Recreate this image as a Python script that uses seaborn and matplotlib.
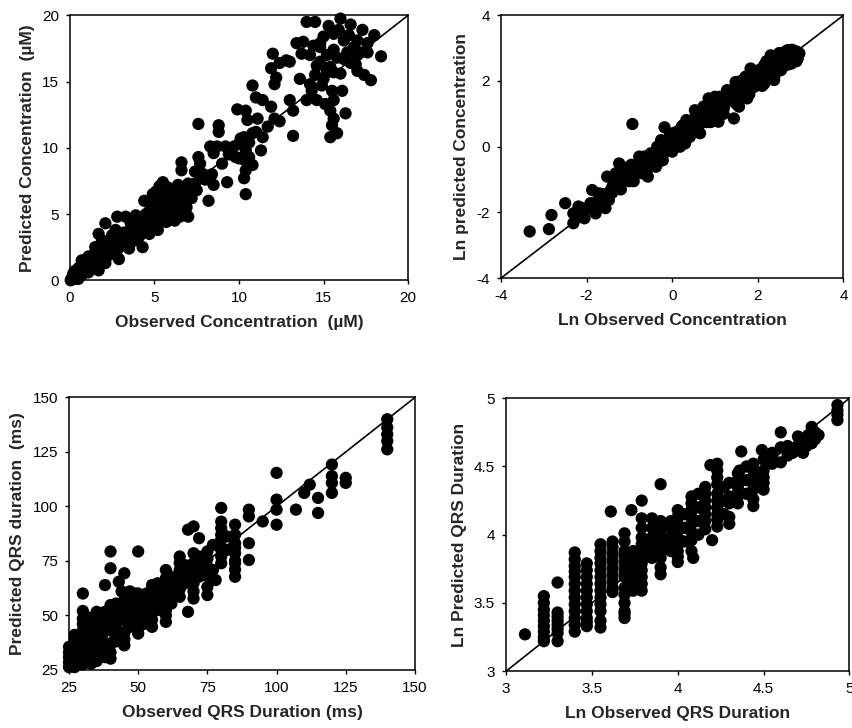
import numpy as np
import pandas as pd
import matplotlib
matplotlib.use("Agg")
import matplotlib.pyplot as plt
import seaborn as sns

# ---- panel A: observed vs predicted concentration (uM) ----
conc_obs = [
    16.0, 14.0, 14.5, 16.6, 17.3, 18.0, 18.4, 17.8, 17.4, 17.0, 16.6, 15.6, 15.0, 14.8, 14.4,
    13.4, 13.8, 13.7, 14.2, 14.8, 15.4, 15.6, 16.2, 16.8, 17.6, 17.0, 16.2, 15.6, 15.2, 13.0,
    12.8, 12.4, 11.9, 12.0, 12.2, 12.1, 14.5, 14.9, 14.3, 14.0, 14.6, 15.1, 15.6, 16.1, 15.5,
    15.4, 15.6, 15.5, 16.3, 15.4, 15.8, 13.2, 13.0, 13.2, 12.1, 11.9, 11.4, 11.0, 10.8, 10.4,
    9.9, 10.5, 11.1, 10.8, 10.3, 9.7, 10.0, 10.4, 11.3, 9.8, 10.3, 10.8, 10.4, 10.3, 10.4,
    9.3, 8.7, 9.2, 8.3, 8.8, 8.8, 7.6, 8.5, 7.6, 7.7, 7.7, 8.5, 8.2, 7.9, 7.4,
    6.6, 6.6, 6.6, 7.1, 6.9, 7.0, 6.5, 6.1, 5.7, 5.3, 5.7, 5.1, 4.8, 4.4, 4.5,
    4.9, 5.2, 4.7, 4.1, 4.0, 4.3, 3.8, 3.3, 2.8, 2.1, 2.7, 3.3, 3.5, 2.9, 2.3,
    1.7, 2.1, 1.6, 1.3, 0.9, 0.5, 0.2, 0.05, 5.5, 5.9, 6.3, 6.1, 5.8, 5.3, 5.7,
    6.2, 4.9, 5.5, 4.5, 0.7, 1.1, 1.5, 1.9, 1.7, 2.5, 1.0, 1.4, 1.7, 0.5, 0.3,
    0.7, 1.1, 2.1, 2.5, 2.9, 3.1, 3.6, 0.1, 0.35, 0.6, 0.8, 1.2,
    0.3, 0.6, 0.9, 1.2, 1.5, 1.8, 2.2, 2.6, 3.0, 3.4, 0.2, 0.5, 0.8, 1.1, 1.4,
    1.8, 2.2, 2.6, 4.6, 4.8, 5.0, 5.2, 5.4, 5.6, 5.8, 6.0, 6.2, 6.4, 6.6, 6.8,
    5.0, 5.3, 5.6, 6.0, 4.7, 5.1, 5.3, 6.4, 7.0, 7.2, 4.2, 3.9, 4.4, 3.2, 6.9,
    7.4, 9.5, 10.1, 10.6, 11.0, 10.0, 14.8, 15.9, 16.5, 15.3, 17.2, 16.9, 15.8, 14.6,
    0.4, 0.7, 1.0, 1.3, 1.6, 1.9, 2.4, 2.8, 3.2, 3.6, 4.0, 0.3, 0.6, 1.0, 1.3,
    1.6, 2.0, 2.4, 2.8, 3.6, 4.5, 4.7, 4.9, 5.2, 5.5, 5.8, 6.1, 6.3, 6.5, 6.7,
    5.6, 5.9, 5.0, 4.6, 3.9, 4.8, 6.0, 6.8, 7.2, 7.5, 8.0, 8.4, 9.0, 9.4, 10.6,
    11.4, 11.7, 12.4, 13.6, 14.2, 15.0, 16.4, 17.0, 17.6, 16.0, 15.2,
]
conc_pred = [
    19.75, 19.5, 19.5, 19.3, 18.9, 18.5, 16.9, 15.1, 15.5, 15.8, 16.4, 18.6, 18.4, 17.6, 17.7,
    17.9, 18.0, 17.1, 17.0, 16.5, 16.1, 15.7, 16.7, 17.6, 17.9, 18.1, 18.1, 17.4, 17.0, 16.5,
    16.6, 16.4, 16.0, 17.1, 15.3, 14.8, 15.5, 14.7, 14.3, 13.6, 13.6, 13.3, 13.6, 14.3, 14.3,
    12.8, 12.2, 11.7, 12.6, 10.8, 11.1, 10.9, 13.6, 12.8, 12.2, 13.1, 13.6, 13.8, 14.7, 12.8,
    12.9, 12.1, 12.2, 11.1, 10.8, 10.1, 10.3, 9.8, 9.8, 9.3, 9.1, 8.7, 8.3, 7.7, 6.5,
    7.4, 10.1, 10.1, 10.1, 11.7, 11.2, 11.8, 9.6, 9.3, 8.8, 8.1, 7.2, 6.0, 8.0, 7.3,
    8.9, 8.3, 7.0, 6.5, 5.5, 4.8, 4.8, 5.5, 5.0, 7.0, 6.3, 6.0, 5.5, 6.0, 5.0,
    4.5, 3.8, 3.5, 3.3, 4.7, 2.5, 3.0, 4.8, 4.8, 4.3, 3.8, 3.5, 2.4, 1.6, 3.0,
    1.5, 2.5, 2.0, 1.3, 1.0, 0.6, 0.25, 0.0, 5.8, 6.0, 6.3, 6.8, 7.0, 5.3, 4.4,
    4.5, 6.5, 7.4, 4.3, 1.5, 1.8, 2.5, 3.0, 3.5, 3.4, 0.75, 1.0, 0.75, 0.1, 0.5,
    0.4, 0.6, 1.3, 2.0, 2.5, 3.0, 3.8, 0.15, 0.3, 0.7, 0.9, 1.1,
    0.1, 0.3, 0.6, 0.8, 1.2, 1.4, 1.8, 2.2, 2.6, 3.1, 0.5, 0.9, 1.2, 1.5, 1.9,
    2.3, 2.8, 3.3, 4.2, 4.8, 5.2, 5.6, 6.2, 6.6, 5.4, 5.9, 6.1, 5.6, 6.0, 6.4,
    4.0, 4.6, 4.9, 5.2, 5.8, 6.7, 7.1, 7.2, 7.3, 6.9, 4.1, 3.6, 3.8, 3.6, 6.7,
    8.2, 9.8, 10.7, 10.4, 11.2, 9.2, 17.9, 18.9, 18.5, 19.2, 17.2, 16.3, 16.8, 16.2,
    0.2, 0.5, 0.9, 1.1, 1.5, 1.8, 2.0, 2.3, 2.8, 3.3, 3.5, 0.7, 1.0, 1.3, 1.7,
    2.2, 2.6, 3.0, 3.6, 4.3, 4.6, 5.2, 5.5, 5.0, 5.3, 5.7, 6.4, 6.9, 6.6, 5.8,
    7.0, 6.6, 6.1, 4.8, 4.9, 3.9, 4.8, 5.2, 6.2, 6.8, 7.6, 8.0, 8.8, 9.5, 9.3,
    10.8, 11.6, 12.0, 15.2, 14.8, 15.2, 17.2, 17.0, 17.2, 15.6, 15.8,
]

# ---- panel B: ln observed vs ln predicted concentration ----
ln_conc_obs = [
    -3.33, -2.88, -2.82, -2.50, -0.93, -0.18, -2.31, -2.31, -2.19, -2.05, -1.91, -1.87, -1.79, -1.68,
    -1.56, -1.48, -1.52, -1.40, -1.24, -1.12, -1.01, -0.85, -0.77, -0.61, -0.57, -0.45, -0.30, -0.22,
    -0.26, -0.06, 0.02, 0.18, 0.22, 0.33, 0.41, 0.49, 0.65, 0.53, 0.73, 0.85, 0.96, 1.08, 1.00,
    1.20, 1.28, 1.44, 1.52, 1.56, 1.48, 1.75, 1.79, 1.83, 1.99, 2.15, 2.07, 2.38, 2.46, 2.30,
    2.50, 2.70, 2.86, 2.93, 2.78, 2.62, 2.54, 2.26, 1.67, 1.91, 1.28, 1.12, 0.96, 0.81, 0.65,
    0.26, 0.10, -0.14, -0.38, -0.53, -0.69, -0.93, -1.08, -1.32, -1.28, -1.71, -1.64, -2.11, -2.23,
    2.74, 2.97, 2.38, 2.15, 1.95, 1.71, 1.60, 1.40, 1.12, 0.93, 0.73, 0.57, 0.41, 0.29, 0.14,
    -2.20, -2.05, -1.90, -1.75, -1.60, -1.45, -1.30, -1.15, -1.00, -0.85, -0.70, -0.55, -0.40, -0.25,
    -0.10, 0.05, 0.20, 0.35, 0.50, 0.65, 0.80, 0.95, 1.10, 1.25, 1.40, 1.55, 1.70, 1.85, 2.00,
    2.15, 2.30, 2.45, 2.60, 2.75, 2.90,
    -1.20, -0.90, -0.60, -0.30, 0.00, 0.30, 0.60, 0.90, 1.20, 1.50, 1.80, 2.10, 2.40, 2.70, 2.90,
    -1.00, -0.50, 0.10, 0.40, 0.70, 1.00, 1.30, 1.60, 1.90, 2.20, 2.50, 2.80,
    -1.80, -1.60, -1.40, -1.20, -1.00, -0.80, -0.60, -0.40, -0.20, 0.00, 0.20, 0.40, 0.60, 0.80,
    1.00, 1.20, 1.40, 1.60, 1.80, 2.00, 2.20, 2.40, 2.60, 2.80, 2.90,
    2.65, 2.85, 2.55, 2.35, 2.05, 1.75, 1.45, 1.15, 0.85, 0.55, 0.25, -0.05, -0.35, -0.65, -0.95,
]
ln_conc_pred = [
    -2.58, -2.51, -2.08, -1.72, 0.69, 0.59, -2.33, -2.03, -1.82, -2.18, -1.72, -1.32, -2.03, -1.57,
    -1.87, -1.62, -0.91, -1.22, -0.51, -0.71, -1.01, -0.81, -0.30, -0.61, -0.91, -0.30, -0.10, -0.41,
    0.20, 0.10, 0.41, 0.00, 0.61, 0.81, 0.30, 0.51, 0.41, 1.11, 1.01, 1.47, 0.96, 0.76, 1.52,
    1.22, 1.72, 0.86, 1.62, 1.22, 1.97, 1.47, 1.72, 2.38, 2.13, 1.92, 2.33, 2.03, 2.43, 2.78,
    2.84, 2.94, 2.84, 2.68, 2.53, 2.63, 2.33, 2.43, 1.92, 1.82, 1.42, 1.52, 1.32, 0.91, 0.71,
    0.20, 0.30, -0.10, -0.61, -0.40, -0.81, -0.91, -1.01, -0.81, -1.16, -1.42, -1.82, -1.87, -2.13,
    2.78, 2.84, 2.63, 2.48, 2.28, 2.13, 1.82, 1.72, 1.32, 1.11, 1.22, 0.81, 0.71, 0.46, 0.15,
    -2.15, -1.95, -1.85, -1.65, -1.45, -1.35, -1.10, -1.00, -0.85, -0.70, -0.55, -0.45, -0.20, -0.15,
    0.05, 0.15, 0.30, 0.45, 0.60, 0.75, 0.95, 1.10, 1.20, 1.35, 1.50, 1.60, 1.80, 1.95, 2.05,
    2.20, 2.35, 2.55, 2.65, 2.70, 2.75,
    -1.30, -1.05, -0.75, -0.45, -0.15, 0.10, 0.45, 0.75, 1.00, 1.30, 1.60, 1.85, 2.20, 2.50, 2.60,
    -0.60, -0.20, 0.45, 0.75, 1.05, 1.40, 1.70, 2.00, 2.30, 2.60, 2.85, 2.95,
    -1.75, -1.60, -1.40, -1.15, -1.05, -0.80, -0.50, -0.45, -0.20, 0.10, 0.15, 0.50, 0.60, 0.75,
    1.05, 1.15, 1.40, 1.55, 1.85, 1.90, 2.15, 2.40, 2.45, 2.80, 2.90,
    2.90, 2.60, 2.75, 2.55, 2.35, 2.05, 1.75, 1.45, 1.25, 0.95, 0.65, 0.35, 0.00, -0.30, -0.55,
]

# ---- panel C: observed vs predicted QRS duration (ms) ----
qrs_obs = [
    140, 140, 140, 140, 140, 120, 120, 120, 120, 125, 125, 115, 115, 112, 110, 107,
    100, 100, 100, 100, 95, 90, 90, 90, 90, 85, 85, 85, 85, 85, 80, 80, 80, 80, 80,
    77, 78, 75, 75, 75, 72, 70, 68, 70, 70, 70, 70, 68, 65, 65, 65, 65,
    60, 60, 60, 60, 60, 55, 55, 55, 55, 50, 50, 50, 50, 50, 45, 45, 45, 45, 45, 43,
    40, 40, 40, 40, 40, 40, 38, 35, 35, 35, 35, 30, 30, 30, 30, 30, 27, 27, 27, 25, 25, 25,
    33, 33, 33, 33, 38, 38, 38, 38, 42, 42, 42, 47, 47, 47, 53, 53, 53, 57, 57, 57,
    62, 62, 62, 67, 67, 72, 72, 77, 82, 82,
    25, 25, 27, 27, 27, 30, 30, 30, 30, 30, 32, 32, 32, 32, 35, 35, 35, 35,
    37, 37, 37, 40, 40, 40, 40, 42, 42, 42, 45, 45, 45, 45, 47, 47, 50, 50, 50,
    52, 52, 55, 55, 55, 57, 57, 60, 60, 60, 60, 62, 62, 65, 65, 65, 67, 67,
    70, 70, 70, 72, 72, 75, 75, 75, 80, 80, 80, 85, 85, 85, 85, 44, 47, 49,
]
qrs_pred = [
    140.0, 136.2, 133.1, 130.0, 126.2, 119.2, 113.9, 110.8, 106.2, 113.1, 110.8, 103.9, 97.0, 110.0, 106.2, 98.5,
    115.4, 103.1, 98.5, 91.6, 93.1, 98.5, 95.4, 83.1, 75.4, 91.6, 83.1, 78.5, 73.9, 67.7, 99.3, 90.0, 84.7, 80.0, 73.9,
    82.3, 66.2, 79.3, 72.4, 59.3, 85.4, 90.8, 89.3, 78.5, 70.8, 64.7, 57.7, 51.6, 77.0, 70.8, 64.7, 58.5,
    70.8, 64.7, 58.5, 52.4, 47.0, 63.9, 58.5, 52.4, 44.7, 60.0, 53.9, 47.8, 41.6, 79.3, 69.3, 60.0, 53.9, 47.8, 36.2, 65.4,
    79.3, 71.6, 54.7, 49.3, 43.1, 30.1, 63.9, 51.6, 46.2, 40.0, 32.4, 60.0, 48.5, 43.1, 37.0, 30.8, 38.5, 32.4, 26.2, 35.5, 30.8, 26.2,
    46.2, 40.0, 33.9, 27.8, 51.6, 44.7, 37.0, 30.8, 55.4, 47.8, 41.6, 60.0, 52.4, 44.7, 60.0, 53.9, 49.3, 64.7, 58.5, 52.4,
    67.7, 61.6, 55.4, 70.8, 64.7, 73.9, 67.7, 70.8, 80.0, 86.2,
    28.5, 33.0, 29.0, 35.0, 41.0, 27.5, 34.0, 40.0, 46.0, 52.0, 30.5, 37.0, 43.0, 49.0, 29.0, 36.0, 43.0, 49.5,
    34.0, 41.0, 48.0, 33.0, 37.0, 46.0, 52.0, 38.0, 45.0, 51.0, 39.0, 42.0, 51.0, 57.0, 48.0, 56.0, 44.0, 51.0, 57.0,
    56.0, 46.0, 48.0, 55.0, 61.0, 55.0, 61.0, 50.0, 55.0, 62.0, 67.0, 58.0, 64.0, 62.0, 68.0, 74.0, 67.0, 73.0,
    61.0, 67.0, 74.0, 70.0, 77.0, 63.0, 68.0, 76.0, 77.0, 87.0, 93.0, 71.0, 75.0, 81.0, 87.0, 61.0, 61.0, 60.0,
]

# ---- panel D: ln observed vs ln predicted QRS duration ----
ln_qrs_obs = [
    3.11, 3.22, 3.22, 3.22, 3.22, 3.22, 3.30, 3.30, 3.30, 3.30, 3.30,
    3.40, 3.40, 3.40, 3.40, 3.40, 3.40, 3.40, 3.47, 3.47, 3.47, 3.47, 3.47, 3.47,
    3.55, 3.55, 3.55, 3.55, 3.55, 3.55, 3.55, 3.61, 3.62, 3.62, 3.62, 3.62,
    3.69, 3.69, 3.69, 3.69, 3.69, 3.69, 3.69, 3.73, 3.74, 3.74, 3.74,
    3.79, 3.79, 3.79, 3.79, 3.79, 3.79, 3.79, 3.85, 3.85, 3.85,
    3.90, 3.90, 3.90, 3.90, 3.90, 3.96, 3.96, 4.00, 4.00, 4.00, 4.00, 4.00,
    4.08, 4.08, 4.08, 4.08, 4.09, 4.16, 4.16, 4.16, 4.16, 4.19, 4.20,
    4.23, 4.23, 4.23, 4.23, 4.23, 4.30, 4.30, 4.37, 4.36, 4.35, 4.35,
    4.44, 4.44, 4.44, 4.44, 4.49, 4.50, 4.50, 4.55, 4.60, 4.60, 4.60, 4.67,
    4.71, 4.73, 4.76, 4.78, 4.78, 4.82, 4.93, 4.93, 4.93, 4.93,
    3.22, 3.22, 3.22, 3.22, 3.30, 3.30, 3.30,
    3.40, 3.40, 3.40, 3.40, 3.40, 3.40, 3.47, 3.47, 3.47, 3.47, 3.47,
    3.55, 3.55, 3.55, 3.55, 3.55, 3.55, 3.62, 3.62, 3.62, 3.62, 3.62,
    3.69, 3.69, 3.69, 3.69, 3.69, 3.69, 3.74, 3.74, 3.74, 3.74, 3.74,
    3.79, 3.79, 3.79, 3.79, 3.79, 3.85, 3.85, 3.85, 3.90, 3.90, 3.90, 3.90, 3.90,
    3.96, 3.96, 3.96, 4.00, 4.00, 4.00, 4.00, 4.04, 4.04, 4.04,
    4.08, 4.08, 4.08, 4.08, 4.12, 4.12, 4.12, 4.12, 4.16, 4.16, 4.16,
    4.23, 4.23, 4.23, 4.23, 4.23, 4.27, 4.27, 4.27, 4.30, 4.30, 4.30,
    4.35, 4.35, 4.35, 4.40, 4.40, 4.40, 4.44, 4.44, 4.44, 4.50, 4.50, 4.50,
    4.55, 4.55, 4.64, 4.64, 4.70, 4.70, 4.75, 4.75, 4.80, 4.80,
]
ln_qrs_pred = [
    3.27, 3.22, 3.29, 3.37, 3.45, 3.55, 3.65, 3.43, 3.34, 3.22, 3.28,
    3.87, 3.77, 3.69, 3.59, 3.49, 3.39, 3.29, 3.79, 3.69, 3.59, 3.49, 3.39, 3.33,
    3.93, 3.83, 3.74, 3.64, 3.54, 3.44, 3.32, 4.17, 3.91, 3.81, 3.71, 3.61,
    4.01, 3.88, 3.79, 3.69, 3.56, 3.44, 3.39, 4.18, 3.83, 3.74, 3.59,
    4.25, 4.12, 3.98, 3.88, 3.79, 3.69, 3.59, 4.12, 3.93, 3.83,
    4.37, 4.10, 4.01, 3.88, 3.71, 4.10, 3.93, 4.18, 4.08, 3.98, 3.88, 3.80,
    4.28, 4.18, 4.08, 3.96, 3.83, 4.35, 4.25, 4.15, 4.04, 4.51, 3.96,
    4.52, 4.37, 4.25, 4.15, 4.06, 4.23, 4.08, 4.61, 4.47, 4.35, 4.23,
    4.52, 4.42, 4.33, 4.21, 4.62, 4.42, 4.33, 4.57, 4.75, 4.64, 4.53, 4.60,
    4.69, 4.60, 4.73, 4.79, 4.67, 4.73, 4.95, 4.91, 4.88, 4.84,
    3.25, 3.33, 3.41, 3.50, 3.31, 3.37, 3.40,
    3.34, 3.44, 3.54, 3.64, 3.73, 3.82, 3.36, 3.44, 3.54, 3.64, 3.74,
    3.37, 3.49, 3.59, 3.69, 3.79, 3.88, 3.58, 3.66, 3.76, 3.86, 3.95,
    3.42, 3.50, 3.61, 3.74, 3.84, 3.95, 3.64, 3.69, 3.79, 3.88, 3.78,
    3.64, 3.74, 3.84, 3.93, 4.05, 3.88, 3.98, 4.05, 3.76, 3.83, 3.93, 3.97, 4.05,
    3.88, 3.98, 4.05, 3.84, 3.93, 4.03, 4.13, 3.95, 4.05, 4.15,
    3.88, 4.02, 4.13, 4.23, 4.00, 4.10, 4.20, 4.30, 4.10, 4.20, 4.30,
    4.11, 4.20, 4.30, 4.42, 4.47, 4.15, 4.25, 4.35, 4.13, 4.28, 4.38,
    4.28, 4.40, 4.45, 4.30, 4.40, 4.50, 4.26, 4.37, 4.47, 4.38, 4.47, 4.55,
    4.52, 4.60, 4.58, 4.65, 4.64, 4.72, 4.65, 4.70, 4.70, 4.75,
]

panels = [
    (conc_obs, conc_pred, (0, 20), [0, 5, 10, 15, 20],
     "Observed Concentration  (\u00b5M)", "Predicted Concentration  (\u00b5M)",
     [0.082, 0.615, 0.397, 0.364]),
    (ln_conc_obs, ln_conc_pred, (-4, 4), [-4, -2, 0, 2, 4],
     "Ln Observed Concentration", "Ln predicted Concentration",
     [0.588, 0.618, 0.402, 0.361]),
    (qrs_obs, qrs_pred, (25, 150), [25, 50, 75, 100, 125, 150],
     "Observed QRS Duration (ms)", "Predicted QRS duration  (ms)",
     [0.081, 0.080, 0.406, 0.374]),
    (ln_qrs_obs, ln_qrs_pred, (3, 5), [3, 3.5, 4, 4.5, 5],
     "Ln Observed QRS Duration", "Ln Predicted QRS Duration",
     [0.594, 0.078, 0.403, 0.375]),
]

sns.set_style("ticks")
plt.rcParams["font.family"] = ["Liberation Sans", "DejaVu Sans"]

fig = plt.figure(figsize=(8.52, 7.28), dpi=100)

for obs, pred, lims, ticks, xlab, ylab, pos in panels:
    ax = fig.add_axes(pos)
    df = pd.DataFrame({"obs": obs, "pred": pred})
    sns.scatterplot(data=df, x="obs", y="pred", ax=ax, color="black",
                    s=78, edgecolor="none", linewidth=0, zorder=3, clip_on=False)
    # line of identity
    ax.axline((lims[0], lims[0]), slope=1, color="black", lw=1.2, zorder=2)
    ax.set_xlim(lims)
    ax.set_ylim(lims)
    ax.set_xticks(ticks)
    ax.set_yticks(ticks)
    ax.set_xticklabels([f"{t:g}" for t in ticks])
    ax.set_yticklabels([f"{t:g}" for t in ticks])
    ax.tick_params(direction="out", length=3, width=1, labelsize=11, pad=5, colors="black")
    for sp in ax.spines.values():
        sp.set_visible(True)
        sp.set_color("black")
        sp.set_linewidth(1.1)
    ax.set_xlabel(xlab, fontsize=12.5, fontweight="bold", labelpad=7)
    ax.set_ylabel(ylab, fontsize=12.5, fontweight="bold", labelpad=5)

fig.savefig("out.png", dpi=100)
